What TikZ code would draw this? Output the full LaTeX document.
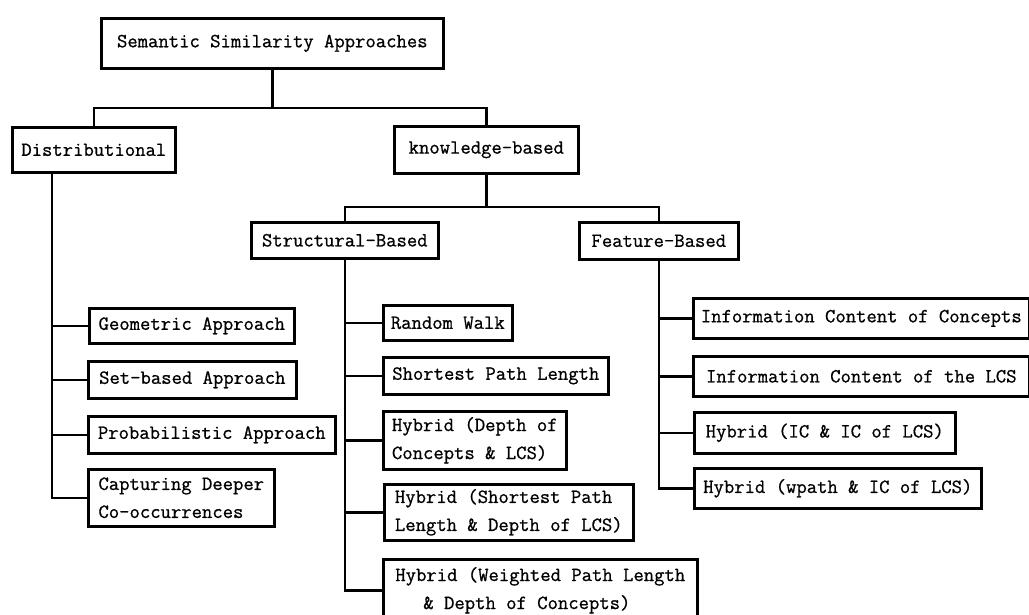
\documentclass[tikz,border=0pt]{standalone}
\usepackage{fontspec}
\newfontfamily\boxfont{Latin Modern Mono}[FakeBold=0.8]
\begin{document}
\begin{tikzpicture}[x=1pt,y=-1pt,
  box/.style={draw=black, line width=2.6pt, anchor=north west, inner sep=0pt,
    align=left, font=\fontsize{20.1}{28}\selectfont\boxfont},
  link/.style={draw=black, line width=2.6pt}]
\useasboundingbox (0,0) rectangle (1029,615);
\clip (0,0) rectangle (1029,615);
% level 0-1
\node[box, minimum width=342pt, minimum height=50pt] (root) at (100,17) {Semantic Similarity Approaches};
\node[box, minimum width=163pt, minimum height=45pt] (dist) at (11,126) {Distributional};
\node[box, minimum width=184pt, minimum height=47pt] (know) at (393,125) {knowledge-based};
% level 2
\node[box, minimum width=187pt, minimum height=36pt] (struct) at (250,221) {Structural-Based};
\node[box, minimum width=159pt, minimum height=37pt] (feat) at (578,221) {Feature-Based};
% distributional children
\node[box, minimum width=205pt, minimum height=35pt] (geo) at (88,307) {Geometric Approach};
\node[box, minimum width=208pt, minimum height=37pt] (set) at (87,360) {Set-based Approach};
\node[box, minimum width=247pt, minimum height=37pt] (prob) at (87,415) {Probabilistic Approach};
\node[box, minimum width=186pt, minimum height=57pt] (capt) at (87,468) {Capturing Deeper\\Co-occurrences};
% structural children
\node[box, minimum width=129pt, minimum height=35pt] (rw) at (382,304) {Random Walk};
\node[box, minimum width=225pt, minimum height=37pt] (spl) at (382,356) {Shortest Path Length};
\node[box, minimum width=183pt, minimum height=58pt] (hdep) at (382,410) {Hybrid (Depth of\\Concepts \& LCS)};
\node[box, minimum width=249pt, minimum height=56pt] (hsp) at (383,483) {Hybrid (Shortest Path\\Length \& Depth of LCS)};
\node[box, minimum width=314pt, minimum height=62pt] (hw) at (382,558) {Hybrid (Weighted Path Length\\\hspace*{28pt}\& Depth of Concepts)};
% feature children
\node[box, minimum width=336pt, minimum height=40pt] (icc) at (692,297) {Information Content of Concepts};
\node[box, minimum width=336pt, minimum height=40pt] (icl) at (692,355) {Information Content of the LCS};
\node[box, minimum width=261pt, minimum height=41pt] (hic) at (693,411) {Hybrid (IC \& IC of LCS)};
\node[box, minimum width=287pt, minimum height=40pt] (hwp) at (693,467) {Hybrid (wpath \& IC of LCS)};
% connectors
\draw[link] (root.south) -- (root.south |- 0,108);
\draw[link] (dist.north) |- (know.north |- 0,108) -- (know.north);
\draw[link] (know.south) -- (know.south |- 0,207);
\draw[link] (struct.north) |- (feat.north |- 0,207) -- (feat.north);
% distributional trunk
\draw[link] (dist.south -| 52,0) |- (capt.west);
\foreach \n in {geo,set,prob} \draw[link] (\n.west) -- (\n.west -| 52,0);
% structural trunk
\draw[link] (struct.south) |- (hw.west);
\foreach \n in {rw,spl,hdep,hsp} \draw[link] (\n.west) -- (\n.west -| struct.south);
% feature trunk
\draw[link] (feat.south) |- (hwp.west);
\foreach \n in {icc,icl,hic} \draw[link] (\n.west) -- (\n.west -| feat.south);
\end{tikzpicture}
\end{document}
